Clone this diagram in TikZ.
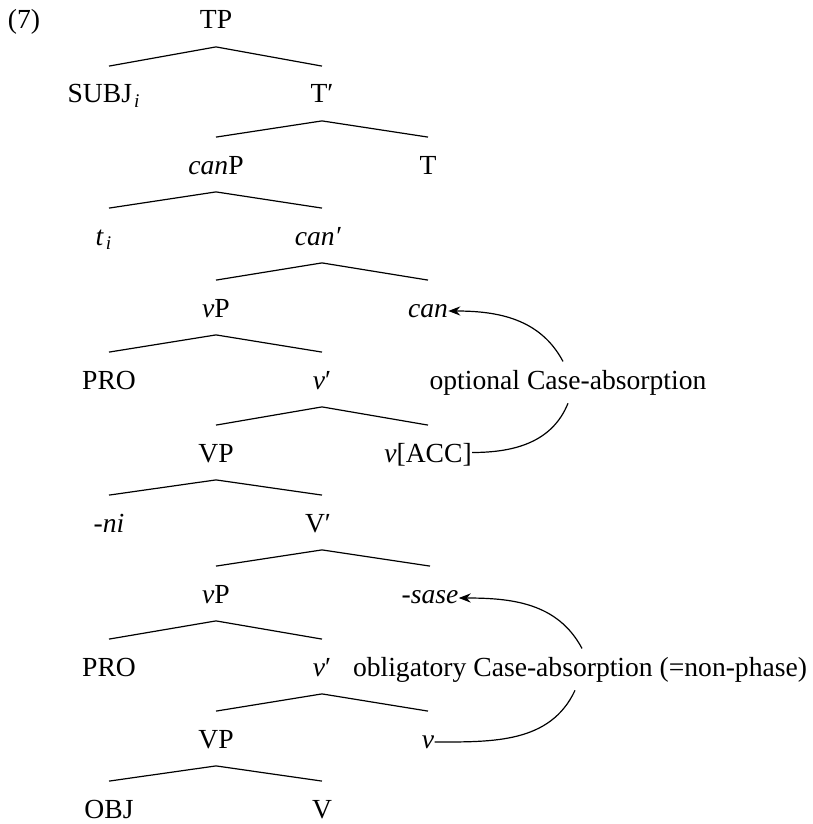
\documentclass[tikz,border=0pt]{standalone}
\usepackage{fontspec}
\setmainfont{Liberation Serif}[ItalicFont={Liberation Serif Italic}]
\usetikzlibrary{arrows.meta,calc}
\begin{document}
\begin{tikzpicture}[x=0.5pt,y=-0.5pt,
  every node/.style={font=\fontsize{13.8}{16}\selectfont},
  cat/.style={inner xsep=0pt, inner ysep=8.75pt, text height=9.5pt, text depth=0pt, anchor=base},
  note/.style={inner xsep=2pt, inner ysep=4pt, anchor=base},
  branch/.style={line width=0.6pt},
  move/.style={line width=0.6pt, -{Stealth[length=6pt,width=4.6pt,inset=2pt]}}]
\useasboundingbox (0,0) rectangle (813,824);

% example number
\node[anchor=base, inner sep=0pt] (exnum) at (24,29) {(7)};

% tree nodes, one row per level
\node[cat] (TP)     at (216,29)  {TP};
\node[cat] (subj)   at (109,103) {\hspace*{-5pt}SUBJ\kern1pt\textsubscript{\textit{i}}};
\node[cat] (Tbar)   at (322,103) {T′};
\node[cat] (canP)   at (216,174) {\textit{can}P};
\node[cat] (T)      at (428,174) {T};
\node[cat] (ti)     at (109,245) {\hspace*{-5pt}\textit{t}\kern1pt\textsubscript{\textit{i}}};
\node[cat] (canbar) at (322,245) {\hspace*{-4pt}\textit{can′}};
\node[cat] (vPa)    at (216,317) {\textit{v}P};
\node[cat] (can)    at (428,317) {\textit{can}};
\node[cat] (proa)   at (109,389) {PRO};
\node[cat] (vbara)  at (322,389) {\textit{v}′};
\node[cat] (VPa)    at (216,462) {VP};
\node[cat] (vacc)   at (428,462) {\textit{v}[ACC]};
\node[cat] (ni)     at (109,532) {\textit{-ni}};
\node[cat] (Vbar)   at (322,532) {\hspace*{-4pt}V′};
\node[cat] (vPb)    at (216,603) {\textit{v}P};
\node[cat] (sase)   at (430,603) {\textit{-sase}};
\node[cat] (prob)   at (109,676) {PRO};
\node[cat] (vbarb)  at (322,676) {\textit{v}′};
\node[cat] (VPb)    at (216,748) {VP};
\node[cat] (vlow)   at (428,748) {\textit{v}};
\node[cat] (obj)    at (109,818) {OBJ};
\node[cat] (V)      at (322,818) {V};

% branches
\foreach \p/\l/\r in {TP/subj/Tbar, Tbar/canP/T, canP/ti/canbar, canbar/vPa/can,
                      vPa/proa/vbara, vbara/VPa/vacc, VPa/ni/Vbar, Vbar/vPb/sase,
                      vPb/prob/vbarb, vbarb/VPb/vlow, VPb/obj/V}
  \draw[branch] (\l.north) -- (\p.south) -- (\r.north);

% movement annotations
\node[note] (opt) at (568,389) {optional Case-absorption};
\node[note] (obl) at (580,676) {obligatory Case-absorption (=non-phase)};

\draw[move] ([xshift=-2.5pt]opt.north) to[out=118,in=0] ([yshift=3pt]can.base east);
\draw[branch] (opt.south) to[out=-112,in=0] (vacc.east);
\draw[move] ([xshift=1pt]obl.north) to[out=118,in=0] ([yshift=2.5pt]sase.base east);
\draw[branch] ([xshift=-2.5pt]obl.south) to[out=-115,in=0] ([yshift=3pt]vlow.base east);
\end{tikzpicture}
\end{document}
